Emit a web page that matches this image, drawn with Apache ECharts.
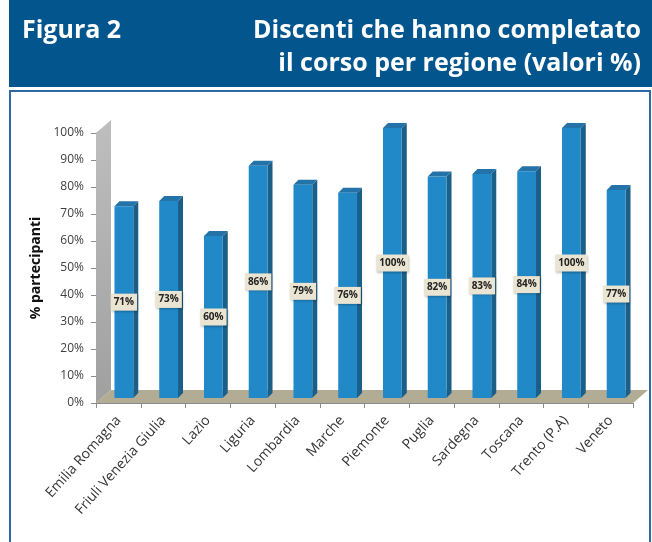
<!DOCTYPE html>
<html><head><meta charset="utf-8">
<script src="https://cdn.jsdelivr.net/npm/echarts@6/dist/echarts.min.js"></script>
<style>html,body{margin:0;padding:0;background:#fff}#c{width:652px;height:542px}</style>
</head><body><div id="c"></div>
<script>
const categories = ['Emilia Romagna','Friuli Venezia Giulia','Lazio','Liguria','Lombardia','Marche','Piemonte','Puglia','Sardegna','Toscana','Trento (P.A)','Veneto'];
const values = [71,73,60,86,79,76,100,82,83,84,100,77];
const yTicks = [0,10,20,30,40,50,60,70,80,90,100];
const titleLeft = 'Figura 2';
const titleRight = ['Discenti che hanno completato','il corso per regione (valori %)'];
const yName = '% partecipanti';

const chart = echarts.init(document.getElementById('c'), null, {renderer:'canvas'});
const FONT = '"Open Sans", "Noto Sans", sans-serif';
const DEPTH_X = 15, DEPTH_Y = -13;

function renderBar(params, api) {
  const i = api.value(0), v = api.value(1);
  const base = api.coord([i, 0]);
  const top = api.coord([i, v]);
  const w = api.size([1, 0])[0] * 0.42;
  const ox = 5.5, oy = -5, dx = 5, dy = -5;
  const x0 = base[0] - w / 2 + ox, x1 = x0 + w;
  const yb = base[1] + oy, yt = top[1] + oy;
  return {
    type: 'group',
    children: [
      {type:'polygon', shape:{points:[[x1,yt],[x1+dx,yt+dy],[x1+dx,yb+dy],[x1,yb]]}, style:{fill:'#1B5E88'}},
      {type:'polygon', shape:{points:[[x0,yt],[x1,yt],[x1+dx,yt+dy],[x0+dx,yt+dy]]}, style:{fill:'#2372A8'}},
      {type:'rect', shape:{x:x0, y:yt, width:w, height:yb-yt}, style:{fill:'#2189C8'}},
      {type:'text', z2: 10, style:{
        text: v + '%', x:(x0+x1)/2, y:(yb+yt)/2, align:'center', verticalAlign:'middle',
        font:'bold 10px ' + FONT, fill:'#222', backgroundColor:'#EAE4D2', padding:[4,3,3,3],
        shadowColor:'rgba(0,0,0,0.25)', shadowBlur:2, shadowOffsetX:1, shadowOffsetY:1
      }}
    ]
  };
}

function renderBack(params, api) {
  const cs = params.coordSys;
  const gx = cs.x, gy = cs.y, gw = cs.width, gh = cs.height;
  return {
    type:'group',
    children:[
      {type:'polygon', shape:{points:[[gx,gy],[gx+DEPTH_X,gy+DEPTH_Y],[gx+DEPTH_X,gy+gh+DEPTH_Y],[gx,gy+gh]]},
        style:{fill:new echarts.graphic.LinearGradient(0,0,0,1,[{offset:0,color:'#BEBEBE'},{offset:1,color:'#A0A0A0'}])}},
      {type:'polygon', shape:{points:[[gx,gy+gh],[gx+gw,gy+gh],[gx+gw+DEPTH_X,gy+gh+DEPTH_Y],[gx+DEPTH_X,gy+gh+DEPTH_Y]]},
        style:{fill:'#B2AC95'}}
    ]
  };
}

chart.setOption({
  animation:false,
  backgroundColor:'#fff',
  graphic:[
    {type:'rect', x:9, y:0, shape:{width:643, height:87}, style:{fill:'#03558E'}},
    {type:'rect', x:10, y:91, shape:{width:640, height:460}, style:{fill:'none', stroke:'#2B6AA6', lineWidth:2}},
    {type:'text', x:22, y:31, style:{text:titleLeft, font:'bold 25px ' + FONT, fill:'#fff', align:'left', verticalAlign:'middle'}},
    {type:'text', x:641, y:31, style:{text:titleRight[0], font:'bold 25px ' + FONT, fill:'#fff', align:'right', verticalAlign:'middle'}},
    {type:'text', x:641, y:64, style:{text:titleRight[1], font:'bold 25px ' + FONT, fill:'#fff', align:'right', verticalAlign:'middle'}}
  ],
  grid:{left:96, right:19, top:133, bottom:139, containLabel:false},
  xAxis:{
    type:'category', data:categories, boundaryGap:true,
    axisLine:{show:true, lineStyle:{color:'#8C8C8C', width:1}},
    axisTick:{show:true, length:5, lineStyle:{color:'#8C8C8C'}},
    axisLabel:{interval:0, rotate:48, fontSize:14, color:'#333', fontFamily:FONT, margin:15},
    z:5
  },
  yAxis:{
    type:'value', min:0, max:100, interval:10,
    name:yName, nameLocation:'middle', nameRotate:90, nameGap:52,
    nameTextStyle:{fontSize:14, fontWeight:'bold', color:'#111', fontFamily:FONT},
    axisLine:{show:true, lineStyle:{color:'#8C8C8C'}},
    axisTick:{show:true, length:5, lineStyle:{color:'#8C8C8C'}},
    axisLabel:{formatter:v=>v+'%', fontSize:12, color:'#404040', fontFamily:FONT, margin:12,
      customValues: yTicks},
    splitLine:{show:false}
  },
  series:[
    {type:'custom', renderItem:renderBack, data:[[0,0]], z:1, silent:true},
    {type:'custom', renderItem:renderBar, data:values.map((v,i)=>[i,v]), z:2,
      encode:{x:0, y:1}}
  ]
});
</script></body></html>
